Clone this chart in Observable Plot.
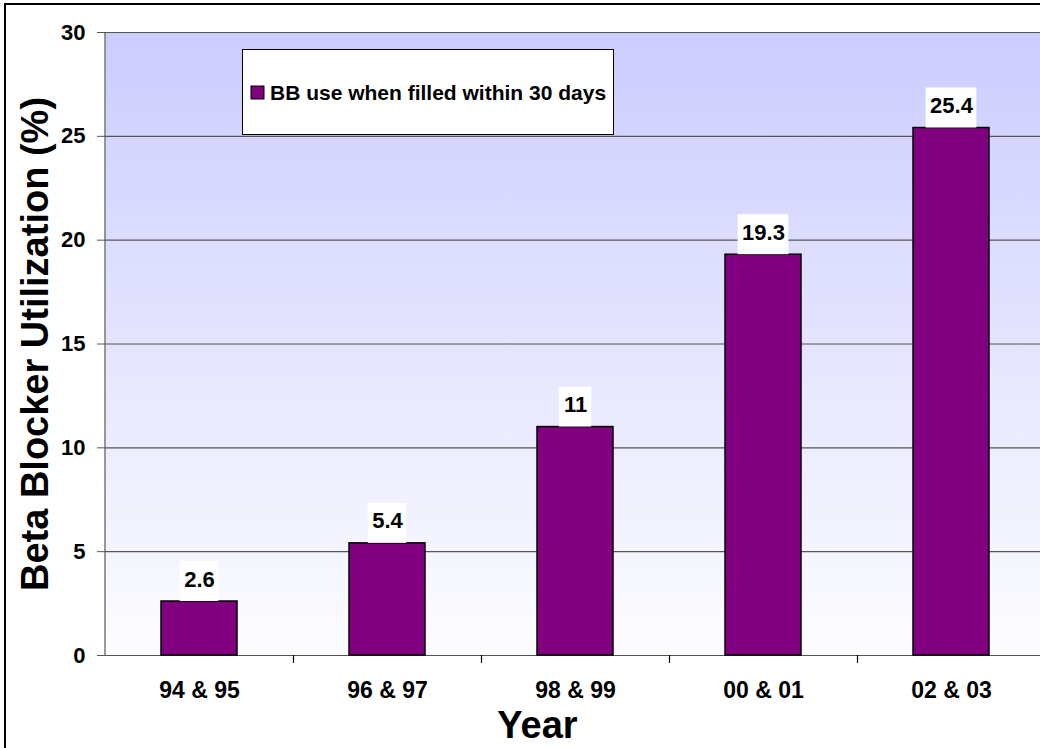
<!DOCTYPE html>
<html>
<head>
<meta charset="utf-8">
<script src="https://cdn.jsdelivr.net/npm/d3@7"></script>
<script src="https://cdn.jsdelivr.net/npm/@observablehq/plot@0.6"></script>
<style>
  body { margin: 0; background: #fff; }
  #chart svg { display: block; }
</style>
</head>
<body>
<div id="chart"></div>
<script>
// Beta blocker utilization by two-year period
const periods = ["94 & 95", "96 & 97", "98 & 99", "00 & 01", "02 & 03"];
const utilization = [2.6, 5.4, 11, 19.3, 25.4];
const yTicks = [0, 5, 10, 15, 20, 25, 30];
const seriesName = "BB use when filled within 30 days";
const yTitle = "Beta Blocker Utilization (%)";
const xTitle = "Year";

const data = periods.map((p, i) => ({ period: p, value: utilization[i], label: String(utilization[i]) }));

const W = 1040, H = 748;
const mL = 105, mT = 32, mB = 93, mR = -5;
const band = (W - mL - mR) / periods.length;
const font = "'Liberation Sans', Arial, Helvetica, sans-serif";
const purple = "#800080";
const gridColor = "#555";

// width of a bold numeric label (Arial bold advance widths), for the white label boxes
const labelSize = 22;
const labelWidth = s => [...s].reduce((w, c) => w + (c === "." ? 0.278 : 0.556), 0) * labelSize;

// gradient used for the plot background
const backdrop = () => {
  const g = d3.create("svg:g");
  const lg = g.append("defs").append("linearGradient").attr("id", "plotbg")
    .attr("x1", 0).attr("x2", 0).attr("y1", 0).attr("y2", 1);
  lg.append("stop").attr("offset", "0%").attr("stop-color", "#ccccff");
  lg.append("stop").attr("offset", "100%").attr("stop-color", "#fdfdff");
  return g.node();
};

// outer chart border and the left axis line
const chartBorder = (index, scales, values, dims) => {
  const g = d3.create("svg:g");
  g.append("rect").attr("x", 5).attr("y", 4).attr("width", dims.width + 20).attr("height", dims.height + 20)
    .attr("fill", "none").attr("stroke", "#000").attr("stroke-width", 2);
  g.append("line").attr("x1", dims.marginLeft).attr("x2", dims.marginLeft)
    .attr("y1", scales.y(0)).attr("y2", scales.y(30)).attr("stroke", gridColor).attr("stroke-width", 1.2);
  return g.node();
};

// legend box inside the plot area
const legend = () => {
  const g = d3.create("svg:g").attr("font-family", font);
  g.append("rect").attr("x", 242.5).attr("y", 49.5).attr("width", 371).attr("height", 85)
    .attr("fill", "#fff").attr("stroke", "#000").attr("stroke-width", 1);
  g.append("rect").attr("x", 251).attr("y", 86).attr("width", 13).attr("height", 13)
    .attr("fill", purple).attr("stroke", "#000").attr("stroke-width", 1);
  g.append("text").attr("x", 270).attr("y", 99.5).attr("font-size", 21).attr("font-weight", "bold")
    .attr("text-anchor", "start").attr("fill", "#000").text(seriesName);
  return g.node();
};

const chart = Plot.plot({
  width: W,
  height: H,
  marginLeft: mL,
  marginTop: mT,
  marginBottom: mB,
  marginRight: mR,
  style: { fontFamily: font, background: "#fff", overflow: "hidden" },
  x: { type: "band", domain: periods, padding: 0, label: null },
  y: { domain: [0, 30], label: null },
  marks: [
    backdrop,
    Plot.frame({ fill: "url(#plotbg)", stroke: null }),
    Plot.ruleY(yTicks, { stroke: gridColor, strokeWidth: 1.2 }),
    chartBorder,
    // small ticks between the period groups below the axis
    Plot.ruleX(periods.slice(1), { x: d => d, dx: -band / 2, y1: 0, y2: 0, insetBottom: -8, stroke: "#000", strokeWidth: 1.2 }),
    Plot.axisY({ ticks: yTicks, tickSize: 8, tickPadding: 12, stroke: gridColor, fontSize: 22, fontWeight: "bold", fill: "#000", label: null }),
    Plot.axisX({ tickSize: 0, tickPadding: 26, fontSize: 23, fontWeight: "bold", fill: "#000", label: null }),
    Plot.barY(data, { x: "period", y: "value", insetLeft: (band - 76) / 2, insetRight: (band - 76) / 2, fill: purple, stroke: "#000", strokeWidth: 1.5 }),
    // white boxes behind the value labels
    ...data.map(d => {
      const inset = (band - labelWidth(d.label) - 8) / 2;
      return Plot.barY([d], { x: "period", y1: "value", y2: "value", insetTop: -40, insetLeft: inset, insetRight: inset, fill: "#fff" });
    }),
    Plot.text(data, { x: "period", y: "value", text: "label", dy: -22, fontSize: labelSize, fontWeight: "bold", fill: "#000" }),
    legend,
    Plot.text([yTitle], { frameAnchor: "left", textAnchor: "middle", lineAnchor: "middle", rotate: -90, dx: -70, fontSize: 38, fontWeight: "bold", fill: "#000" }),
    Plot.text([xTitle], { frameAnchor: "bottom", textAnchor: "middle", lineAnchor: "middle", dy: 70, dx: -38, fontSize: 38, fontWeight: "bold", fill: "#000" })
  ]
});

document.getElementById("chart").appendChild(chart);
</script>
</body>
</html>
